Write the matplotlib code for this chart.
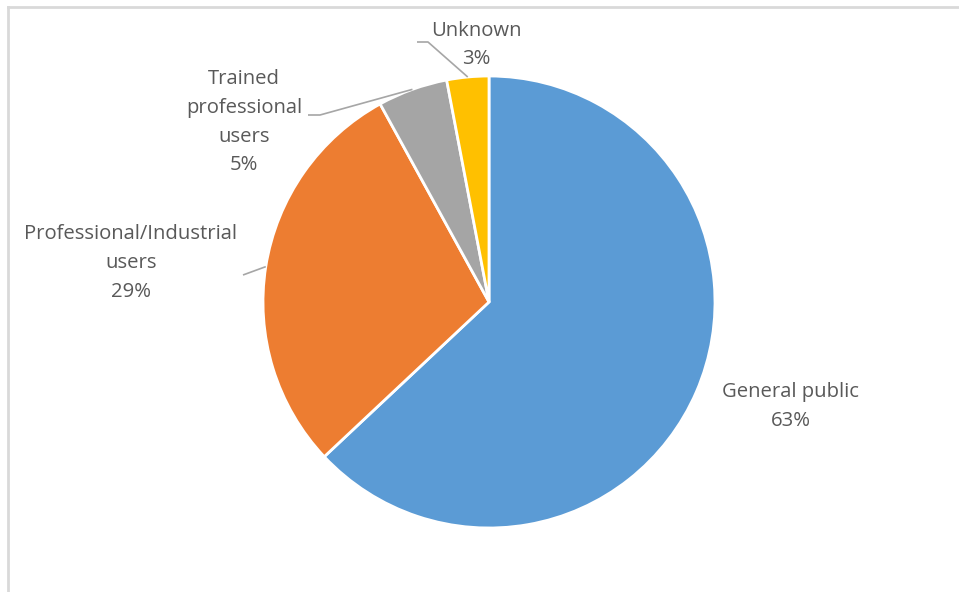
import numpy as np
import matplotlib.pyplot as plt
from matplotlib.lines import Line2D

categories = ['General public', 'Professional/Industrial\nusers', 'Trained\nprofessional\nusers', 'Unknown']
shares = [63, 29, 5, 3]
colors = ['#5B9BD5', '#ED7D31', '#A5A5A5', '#FFC000']

plt.rcParams['font.family'] = ['Open Sans', 'DejaVu Sans']
text_color = '#595959'
leader_color = '#A6A6A6'

fig = plt.figure(figsize=(9.59, 5.92), dpi=100)
ax = fig.add_axes([0, 0, 1, 1])

wedges, _ = ax.pie(shares, colors=colors, startangle=90, counterclock=False,
                   radius=1, wedgeprops=dict(edgecolor='white', linewidth=2))

# pie centre at (489, 302) px, radius 226 px
cx, cy, r = 489, 302, 226
ax.set_xlim(-cx / r, (959 - cx) / r)
ax.set_ylim(-(592 - cy) / r, cy / r)
ax.set_aspect('equal')
ax.axis('off')


def px(x, y):
    return (x - cx) / r, (cy - y) / r


label_pos = [px(791, 406), px(131, 263), px(244, 122), px(476, 45)]
# elbow points of the leader lines (None = no leader)
elbows = [None, [px(243, 275)], [px(320, 115), px(308, 115)], [px(428, 42), px(417, 42)]]

for w, name, val, pos, elb in zip(wedges, categories, shares, label_pos, elbows):
    ax.text(pos[0], pos[1], f'{name}\n{val}%', ha='center', va='center',
            fontsize=14.6, color=text_color, linespacing=1.6)
    if elb:
        mid = np.deg2rad((w.theta1 + w.theta2) / 2)
        xs = [np.cos(mid)] + [p[0] for p in elb]
        ys = [np.sin(mid)] + [p[1] for p in elb]
        ax.plot(xs, ys, color=leader_color, lw=1.2, solid_capstyle='butt')

# chart frame (only top and left edges visible in the crop)
fig.add_artist(Line2D([8 / 959, 1], [1 - 7 / 592, 1 - 7 / 592], color='#D9D9D9', lw=2))
fig.add_artist(Line2D([8 / 959, 8 / 959], [0, 1 - 7 / 592], color='#D9D9D9', lw=2))

fig.savefig('out.png', dpi=100, facecolor='white')
